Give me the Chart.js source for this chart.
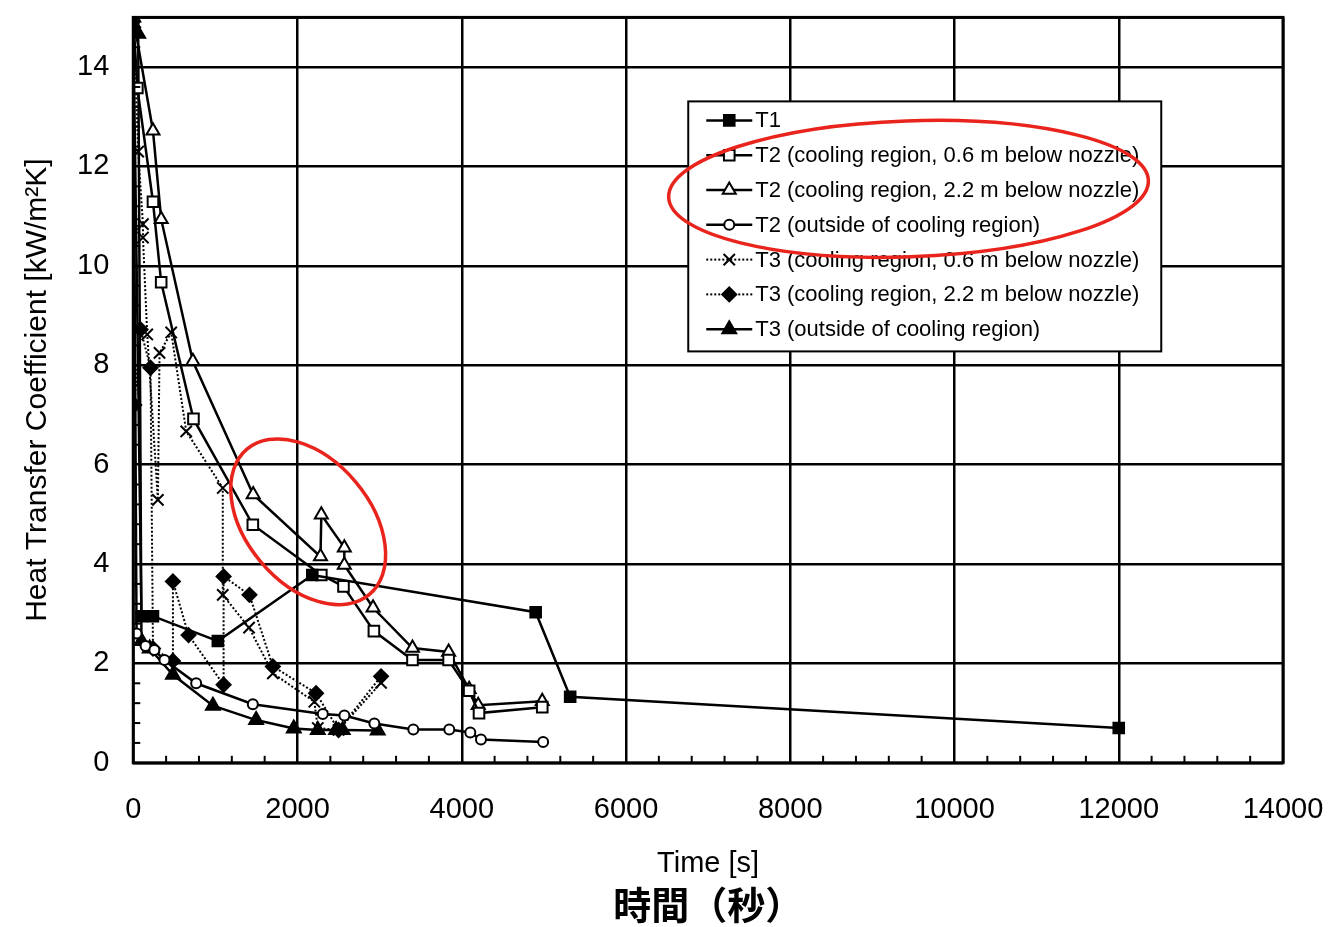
<!DOCTYPE html>
<html>
<head>
<meta charset="utf-8">
<script src="https://cdn.jsdelivr.net/npm/chart.js@4.4.1/dist/chart.umd.min.js"></script>
<style>
  html, body { margin: 0; padding: 0; background: #fff; }
  #wrap { width: 1328px; height: 927px; }
</style>
</head>
<body>
<div id="wrap"><canvas id="htcChart"></canvas></div>
<script>
// time [s] / heat transfer coefficient [kW/m2K]
const t1Time = [0, 100, 240, 1030, 2180, 4900, 5320, 12000];
const t1Htc  = [14.9, 2.95, 2.95, 2.45, 3.78, 3.03, 1.33, 0.70];

const t2NearTime = [0, 50, 240, 340, 733, 1456, 2290, 2560, 2930, 3400, 3840, 4090, 4210, 4980];
const t2NearHtc  = [15.0, 13.58, 11.29, 9.67, 6.92, 4.79, 3.78, 3.55, 2.65, 2.07, 2.07, 1.45, 1.0, 1.12];

const t2FarTime = [0, 240, 340, 726, 1460, 2280, 2290, 2570, 2570, 2920, 3400, 3840, 4090, 4200, 4980];
const t2FarHtc  = [15.0, 12.72, 10.94, 8.08, 5.40, 4.15, 4.99, 4.33, 3.98, 3.12, 2.31, 2.23, 1.48, 1.16, 1.24];

const t2OutTime = [0, 40, 150, 257, 380, 766, 1456, 2308, 2571, 2936, 3410, 3848, 4104, 4234, 4991];
const t2OutHtc  = [14.9, 2.6, 2.35, 2.27, 2.07, 1.6, 1.18, 0.98, 0.95, 0.79, 0.67, 0.67, 0.61, 0.47, 0.42];

const t3NearTime = [0, 60, 118, 118, 170, 300, 320, 462, 645, 1090, 1090, 1410, 1700, 2205, 2247, 2500, 3017];
const t3NearHtc  = [15.0, 12.3, 10.84, 10.57, 8.62, 5.29, 8.25, 8.66, 6.67, 5.53, 3.38, 2.72, 1.80, 1.23, 0.70, 0.66, 1.61];

const t3FarTime = [0, 12, 89, 210, 240, 483, 483, 673, 1100, 1100, 1415, 1700, 2226, 2500, 3017];
const t3FarHtc  = [14.8, 7.2, 8.72, 7.95, 2.3, 2.05, 3.65, 2.57, 1.57, 3.75, 3.38, 1.94, 1.4, 0.66, 1.74];

const t3OutTime = [0, 60, 100, 200, 483, 970, 1496, 1955, 2247, 2470, 2550, 2977];
const t3OutHtc  = [15.0, 14.67, 2.45, 2.3, 1.77, 1.15, 0.86, 0.69, 0.66, 0.66, 0.66, 0.65];

const seriesLabels = [
  'T1',
  'T2 (cooling region, 0.6 m below nozzle)',
  'T2 (cooling region, 2.2 m below nozzle)',
  'T2 (outside of cooling region)',
  'T3 (cooling region, 0.6 m below nozzle)',
  'T3 (cooling region, 2.2 m below nozzle)',
  'T3 (outside of cooling region)'
];

const xTitle = 'Time [s]';
const xTitleJa = '時間（秒）';
const yTitle = 'Heat Transfer Coefficient [kW/m²K]';

const toPoints = (xs, ys) => xs.map((x, i) => ({ x: x, y: ys[i] }));

function series(label, xs, ys, style, radius, fill, dashed) {
  return {
    label: label,
    data: toPoints(xs, ys),
    borderColor: '#000',
    borderWidth: dashed ? 2 : 2.5,
    borderDash: dashed ? [2, 2] : [],
    tension: 0,
    pointStyle: style,
    pointRadius: radius,
    pointHoverRadius: radius,
    pointBorderWidth: 2,
    pointBorderColor: '#000',
    pointBackgroundColor: fill ? '#000' : '#fff'
  };
}

// black frame, inner minor ticks, legend box and red marks
const decorPlugin = {
  id: 'decor',
  afterDatasetsDraw(chart) {
    const { ctx, chartArea: a, scales: { x, y } } = chart;
    ctx.save();
    ctx.strokeStyle = '#000';
    ctx.lineWidth = 2;
    for (let v = 400; v < 14000; v += 400) {
      if (v % 2000 === 0) continue;
      const px = x.getPixelForValue(v);
      ctx.beginPath(); ctx.moveTo(px, a.bottom); ctx.lineTo(px, a.bottom - 7); ctx.stroke();
    }
    for (let k = 1; k < 37; k++) {
      if (k % 5 === 0) continue;
      const py = y.getPixelForValue(k * 0.4);
      ctx.beginPath(); ctx.moveTo(a.left, py); ctx.lineTo(a.left + 7, py); ctx.stroke();
    }
    ctx.lineWidth = 3;
    ctx.strokeRect(a.left, a.top, a.right - a.left, a.bottom - a.top);

    // legend
    const lx = a.left + 555, ly = a.top + 84, lw = 473, lh = 250;
    ctx.fillStyle = '#fff';
    ctx.fillRect(lx, ly, lw, lh);
    ctx.lineWidth = 2;
    ctx.strokeRect(lx, ly, lw, lh);
    ctx.font = '22px "Liberation Sans", Arial, sans-serif';
    ctx.textBaseline = 'middle';
    chart.data.datasets.forEach((ds, i) => {
      const rowY = ly + 19 + i * 34.8;
      ctx.strokeStyle = '#000';
      ctx.lineWidth = ds.borderWidth;
      ctx.setLineDash(ds.borderDash);
      ctx.beginPath(); ctx.moveTo(lx + 18, rowY); ctx.lineTo(lx + 64, rowY); ctx.stroke();
      ctx.setLineDash([]);
      ctx.fillStyle = ds.pointBackgroundColor;
      ctx.lineWidth = 2;
      Chart.helpers.drawPoint(ctx, {
        pointStyle: ds.pointStyle, radius: ds.pointRadius, rotation: 0, borderWidth: 2
      }, lx + 41, rowY);
      ctx.fillStyle = '#000';
      ctx.fillText(ds.label, lx + 67, rowY + 1);
    });

    // red ellipses
    ctx.strokeStyle = '#e8241c';
    ctx.lineWidth = 3.5;
    ctx.beginPath();
    ctx.ellipse(x.getPixelForValue(9440), y.getPixelForValue(11.55), 240, 68, -0.035, 0, Math.PI * 2);
    ctx.stroke();
    ctx.beginPath();
    ctx.ellipse(x.getPixelForValue(2130), y.getPixelForValue(4.85), 95, 62, 0.87, 0, Math.PI * 2);
    ctx.stroke();
    ctx.restore();
  }
};

const tickFont = { family: '"Liberation Sans", Arial, sans-serif', size: 29 };

new Chart(document.getElementById('htcChart'), {
  type: 'line',
  data: {
    datasets: [
      series(seriesLabels[0], t1Time, t1Htc, 'rect', 7.5, true, false),
      series(seriesLabels[1], t2NearTime, t2NearHtc, 'rect', 7.5, false, false),
      series(seriesLabels[2], t2FarTime, t2FarHtc, 'triangle', 7.5, false, false),
      series(seriesLabels[3], t2OutTime, t2OutHtc, 'circle', 5, false, false),
      series(seriesLabels[4], t3NearTime, t3NearHtc, 'crossRot', 8, false, true),
      series(seriesLabels[5], t3FarTime, t3FarHtc, 'rectRot', 7, true, true),
      series(seriesLabels[6], t3OutTime, t3OutHtc, 'triangle', 8, true, false)
    ]
  },
  options: {
    responsive: true,
    maintainAspectRatio: false,
    animation: false,
    layout: { padding: { left: 20, right: 45, top: 0, bottom: 0 } },
    plugins: {
      legend: { display: false },
      tooltip: { enabled: false },
      title: {
        display: true,
        position: 'bottom',
        fullSize: false,
        text: xTitleJa,
        color: '#000',
        font: { family: '"Noto Sans CJK JP", sans-serif', size: 38, weight: 'bold' },
        padding: { top: 0, bottom: 0 }
      }
    },
    scales: {
      x: {
        type: 'linear',
        min: 0,
        max: 14000,
        ticks: { stepSize: 2000, color: '#000', font: tickFont, padding: 0, maxRotation: 0,
          callback: v => String(v) },
        grid: { color: '#000', lineWidth: 2.5, drawTicks: true, tickLength: 30, tickColor: 'rgba(0,0,0,0)' },
        border: { display: false },
        title: { display: true, text: xTitle, color: '#000', font: tickFont, padding: { top: 19, bottom: 0 } }
      },
      y: {
        min: 0,
        max: 15,
        ticks: {
          stepSize: 2, color: '#000', font: tickFont, padding: 0,
          callback: v => (v % 2 === 0 ? String(v) : '')
        },
        grid: { color: '#000', lineWidth: 2.5, drawTicks: true, tickLength: 24, tickColor: 'rgba(0,0,0,0)' },
        border: { display: false },
        title: { display: true, text: yTitle, color: '#000', font: { family: '"Liberation Sans", Arial, sans-serif', size: 30 }, padding: { top: 0, bottom: 21 } }
      }
    }
  },
  plugins: [decorPlugin]
});
</script>
</body>
</html>
